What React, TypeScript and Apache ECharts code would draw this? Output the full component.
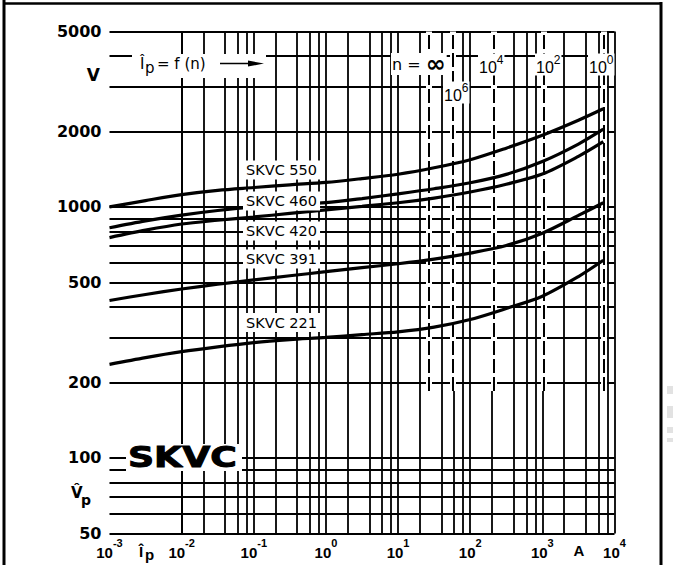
import React, { useEffect, useRef } from 'react';
import * as echarts from 'echarts';

// ---------- data ----------
// peak current Îp in A (half-decade reading positions)
const currents = [
  0.001, 0.00316, 0.01, 0.0316, 0.1, 0.316, 1, 3.16, 10, 31.6, 100, 316, 1000, 3162, 7000,
];
const skvc550 = [1000, 1060, 1120, 1165, 1195, 1225, 1252, 1297, 1350, 1432, 1542, 1715, 1930, 2215, 2460];
const skvc460 = [826, 880, 928, 968, 1000, 1020, 1040, 1080, 1128, 1182, 1248, 1348, 1517, 1780, 2040];
const skvc420 = [755, 808, 855, 885, 912, 942, 973, 1005, 1039, 1085, 1147, 1232, 1352, 1590, 1819];
const skvc391 = [424, 448, 471, 492, 512, 532, 552, 573, 594, 620, 655, 702, 786, 925, 1039];
const skvc221 = [236, 251, 265, 277, 288, 296, 302, 310, 318, 332, 356, 394, 441, 528, 613];
const seriesNames = ['SKVC 550', 'SKVC 460', 'SKVC 420', 'SKVC 391', 'SKVC 221'];
const seriesValues = [skvc550, skvc460, skvc420, skvc391, skvc221];

const yTickLabels = [50, 100, 200, 500, 1000, 2000, 5000];
const hGridValues = [50, 60, 70, 80, 90, 100, 200, 300, 400, 500, 600, 700, 800, 900, 1000, 2000, 3000, 4000, 5000];
const vGridMantissas = [1, 2, 4, 6, 8];
const vGridDecades = [-3, -2, -1, 0, 1, 2, 3];
const vGridLast = 10000;

const nExponents = ['∞', '6', '4', '2', '0'];
const nCurrents = [27, 57, 212, 1050, 7000];
const dashedVoltageRange = [185, 5000];

const SANS = '"Liberation Sans", Arial, sans-serif';
const DV = '"DejaVu Sans", sans-serif';

function buildOption() {
  const vGrid: number[] = [];
  vGridDecades.forEach((d) => vGridMantissas.forEach((m) => vGrid.push(m * Math.pow(10, d))));
  vGrid.push(vGridLast);

  const gridLines: any[] = [];
  vGrid.forEach((v) => gridLines.push({ xAxis: v }));
  hGridValues.forEach((v) => {
    const labeled = yTickLabels.indexOf(v) >= 0;
    gridLines.push({
      yAxis: v,
      label: labeled
        ? {
            show: true,
            position: 'start',
            distance: 8,
            formatter: String(v),
            color: '#000',
            fontFamily: DV,
            fontWeight: 'bold',
            fontSize: 16,
          }
        : { show: false },
    });
  });

  const dashPairs = nCurrents.map((c) => [
    { coord: [c, dashedVoltageRange[0]] },
    { coord: [c, dashedVoltageRange[1]] },
  ]);

  const supRich = {
    b: { fontSize: 15, fontFamily: SANS, fontWeight: 'bold', lineHeight: 22, verticalAlign: 'bottom', color: '#000' },
    s: { fontSize: 11, fontFamily: SANS, fontWeight: 'bold', lineHeight: 11, verticalAlign: 'top', color: '#000' },
  };
  const topRich = {
    b: { fontSize: 16, fontFamily: SANS, lineHeight: 22, verticalAlign: 'bottom', fill: '#000' },
    s: { fontSize: 12, fontFamily: SANS, lineHeight: 12, verticalAlign: 'top', fill: '#000' },
    n: { fontSize: 16, fontFamily: DV, lineHeight: 22, verticalAlign: 'middle', fill: '#000' },
    inf: { fontSize: 24, fontFamily: DV, fontWeight: 'bold', lineHeight: 22, verticalAlign: 'middle', fill: '#000' },
  };

  const txt = (x: number, y: number, text: string, font: string, extra: any = {}) => ({
    type: 'text',
    z: 100,
    x,
    y,
    style: {
      text,
      font,
      fill: '#000',
      align: extra.align || 'left',
      textAlign: extra.align || 'left',
      verticalAlign: 'middle',
      textVerticalAlign: 'middle',
      ...(extra.style || {}),
    },
    ...(extra.el || {}),
  });

  const curveLabelY = [170, 201, 231, 259, 322.5];
  const curveLabels = seriesNames.map((n, i) =>
    txt(243, curveLabelY[i], n, `14.5px ${DV}`, { style: { backgroundColor: '#fff', padding: [2, 3] } })
  );

  const nLabelPos = [
    [391, 64],
    [443, 92.5],
    [478, 64.5],
    [535, 64.5],
    [588, 64.5],
  ];
  const nLabelEls = nExponents.map((e, i) => ({
    type: 'text',
    z: 100,
    x: nLabelPos[i][0],
    y: nLabelPos[i][1],
    style: {
      text: e === '∞' ? '{n|n = }{inf|∞}' : `{b|10}{s|${e}}`,
      rich: topRich,
      align: 'left',
      textAlign: 'left',
      verticalAlign: 'middle',
      textVerticalAlign: 'middle',
      backgroundColor: '#fff',
      padding: [0, 1],
    },
  }));

  const graphic: any[] = [
    // outer frame
    { type: 'line', z: 100, shape: { x1: 4, y1: 0, x2: 4, y2: 565 }, style: { stroke: '#000', lineWidth: 3 } },
    { type: 'line', z: 100, shape: { x1: 3, y1: 3.5, x2: 662, y2: 3.5 }, style: { stroke: '#000', lineWidth: 2.5 } },
    { type: 'line', z: 100, shape: { x1: 661, y1: 2, x2: 661, y2: 565 }, style: { stroke: '#000', lineWidth: 3 } },
    // scan marks
    { type: 'rect', z: 100, shape: { x: 667, y: 386, width: 6, height: 8 }, style: { fill: '#e2e2e2' } },
    { type: 'rect', z: 100, shape: { x: 667, y: 406, width: 6, height: 12 }, style: { fill: '#e2e2e2' } },
    { type: 'rect', z: 100, shape: { x: 667, y: 427, width: 6, height: 6 }, style: { fill: '#e2e2e2' } },
    { type: 'rect', z: 100, shape: { x: 667, y: 438, width: 6, height: 4 }, style: { fill: '#e2e2e2' } },
    // axis unit labels
    txt(100, 75, 'V', `bold 17px ${DV}`, { align: 'right' }),
    txt(71, 493, 'V\u0302', `bold 15px ${DV}`),
    txt(81, 500, 'p', `bold 14px ${DV}`),
    txt(139, 551, 'Î', `bold 15px ${SANS}`),
    txt(145, 554, 'p', `bold 15px ${SANS}`),
    txt(579, 550.5, 'A', `bold 15px ${SANS}`, { align: 'center' }),
    // SKVC logo
    { type: 'rect', z: 100, shape: { x: 126, y: 444, width: 116, height: 27 }, style: { fill: '#fff' } },
    {
      type: 'text',
      z: 101,
      x: 128,
      y: 457.5,
      scaleX: 1.25,
      style: {
        text: 'SKVC',
        font: `bold 29px ${DV}`,
        fill: '#000',
        stroke: '#000',
        lineWidth: 1,
        align: 'left',
        textAlign: 'left',
        verticalAlign: 'middle',
        textVerticalAlign: 'middle',
      },
    },
    // title box  Ip = f(n) --->
    { type: 'rect', z: 100, shape: { x: 132, y: 54, width: 134, height: 24 }, style: { fill: '#fff' } },
    txt(140, 64, 'Î', `15px ${DV}`),
    txt(145, 68, 'p', `15px ${DV}`),
    txt(157, 64, '= f (n)', `15px ${DV}`),
    { type: 'line', z: 101, shape: { x1: 220, y1: 63.5, x2: 254, y2: 63.5 }, style: { stroke: '#000', lineWidth: 1.5 } },
    { type: 'polygon', z: 101, shape: { points: [[248, 60.5], [264, 63.5], [248, 66.5]] }, style: { fill: '#000' } },
    ...nLabelEls,
    ...curveLabels,
  ];

  const helper = (name: string, z: number, lineStyle: any, data: any[]) => ({
    name,
    type: 'line',
    data: [[1, 100]],
    showSymbol: false,
    silent: true,
    lineStyle: { opacity: 0 },
    z,
    markLine: {
      silent: true,
      z,
      symbol: ['none', 'none'],
      animation: false,
      label: { show: false },
      emphasis: { disabled: true },
      lineStyle,
      data,
    },
  });

  const series: any[] = [
    helper('grid', 1, { color: '#000', width: 1.8, type: 'solid' }, gridLines),
    helper('halo', 2, { color: '#fff', width: 6, type: 'solid' }, dashPairs),
    helper('n', 3, { color: '#000', width: 2, type: [14, 4] }, dashPairs),
    ...seriesNames.map((name, i) => ({
      name,
      type: 'line',
      data: currents.map((c, j) => [c, seriesValues[i][j]]),
      smooth: 0.3,
      showSymbol: false,
      silent: true,
      z: 10,
      lineStyle: { color: '#000', width: 3.2 },
    })),
  ];

  return {
    animation: false,
    backgroundColor: '#fff',
    grid: { left: 109.5, top: 31.5, width: 505, height: 502, containLabel: false },
    xAxis: {
      type: 'log',
      logBase: 10,
      min: 0.001,
      max: 10000,
      axisLine: { show: false },
      axisTick: { show: false },
      splitLine: { show: false },
      axisLabel: {
        margin: 4,
        showMinLabel: true,
        showMaxLabel: true,
        formatter: (v: number) => `{b|10}{s|${Math.round(Math.log10(v))}}`,
        rich: supRich,
      },
    },
    yAxis: {
      type: 'log',
      logBase: 10,
      min: 50,
      max: 5000,
      axisLine: { show: false },
      axisTick: { show: false },
      splitLine: { show: false },
      axisLabel: { show: false },
    },
    graphic,
    series,
  };
}

export default function App() {
  const ref = useRef<HTMLDivElement>(null);
  useEffect(() => {
    if (!ref.current) return;
    const chart = echarts.init(ref.current, undefined, { renderer: 'svg' });
    chart.setOption(buildOption() as any);
    return () => chart.dispose();
  }, []);
  return (
    <div
      ref={ref}
      style={{ position: 'fixed', left: 0, top: 0, width: 675, height: 565, background: '#fff' }}
    />
  );
}
